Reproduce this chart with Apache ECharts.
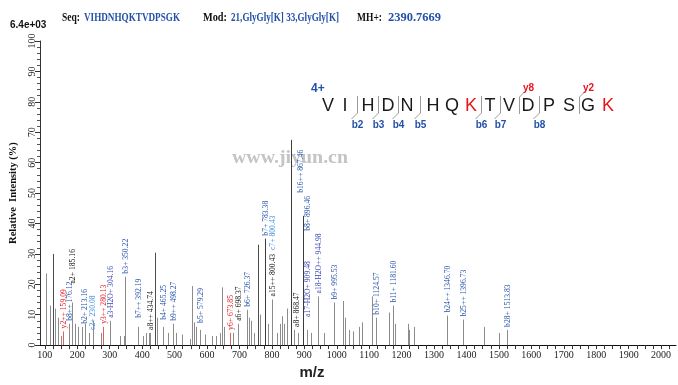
<!DOCTYPE html>
<html><head><meta charset="utf-8">
<script src="https://cdn.jsdelivr.net/npm/echarts@6/dist/echarts.min.js"></script>
<style>html,body{margin:0;padding:0;background:#fff}#c{width:678px;height:385px}</style>
</head><body><div id="c"></div>
<script>
// ---------- DATA ----------
const sequence = 'VIHDNHQKTVDPSGK';
const modText = '21,GlyGly[K] 33,GlyGly[K]';
const mhText = '2390.7669';
const baseIntensity = '6.4e+03';
const modifiedResidues = [8, 15];           // 1-based positions (red K)
const bCleavages = [2, 3, 4, 5, 8, 9, 11];  // cleavage after residue n
const bNames = ['b2', 'b3', 'b4', 'b5', 'b6', 'b7', 'b8'];
const yCleavages = [10, 13];                // cleavage after residue n
const yNames = ['y8', 'y2'];
const xTickValues = [100,200,300,400,500,600,700,800,900,1000,1100,1200,1300,1400,1500,1600,1700,1800,1900,2000];

// unlabelled peaks (m/z, relative intensity %)
const peakMz = [103,115,125,131,140,149,193,202,223,248,273,331,345,402,412,421,439,445,479,504,523,547,555,560,565,593,615,627,640,646,652,680,729,735,745,757,763,788,816,825,831,837,846,880,922,960,1019,1025,1038,1050,1069,1078,1109,1161,1180,1220,1223,1238,1454,1500];
const peakInt = [23.6,13,30,12,9,3,7,6,7,8,4,3,3,3,4,4,30.4,9,4,4,3.5,2,19.4,7.5,6,3.5,3,3,4,19,6,4,9,8,4,33,10,7,4,7,9.5,7,12,4,4,4,14.5,9,5,4.5,6,7.5,16,10.7,7,7,5,6,6,4];

// annotated fragment-ion peaks
const ionMz = [155,173,185,213,236,278,300,347,387,424,464,495,578,671,695,723,779,800,860,868,896,908,942,991,1121,1173,1340,1389,1525];
const ionInt = [4.5,7,14,6,4,6,8,22.5,6,4,6,7,5,4,7,11.6,35,15,67.5,5,42.5,5,16,14,9,13,9.7,8.4,5];
const ionLabel = ['y2++ 159.09','b8++ 176.12','a2+ 185.16','b2+ 213.16','c2+ 230.08','y3++ 280.13','a3-H2O+ 304.16','b3+ 350.22','b7++ 392.19','a8++ 434.74','b4+ 465.25','b9++ 498.27','b5+ 579.29','y6+ 673.85','a6+ 698.37','b6+ 726.37','b7+ 783.38','a15++ 800.43|c7+ 800.43','b16++ 867.46','a8+ 868.47','b8+ 896.46','a17-H2O+ 909.48','a18-H2O++ 944.98','b9+ 995.53','b10+ 1124.57','b11+ 1181.60','b24++ 1346.70','b25++ 1396.73','b28+ 1513.83'];

// ---------- STYLE ----------
const BLUE = '#2350a8', RED = '#e8141b', LBLUE = '#3a8ee0', WBLUE = '#3b45b4';
function ionColor(lbl){
  if (lbl.indexOf('H2O') >= 0) return WBLUE;
  const c = lbl[0];
  if (c === 'y') return RED;
  if (c === 'a') return '#111';
  if (c === 'c') return LBLUE;
  return BLUE;
}
const labelShift = {
  'a2+ 185.16': [0, -16], 'b7++ 392.19': [0, -6], 'b4+ 465.25': [0, -4], 'b5+ 579.29': [0, -4],
  'b2+ 213.16': [2, 0], 'c2+ 230.08': [3, 0], 'b16++ 867.46': [9, 56], 'b8+ 896.46': [4, 18],
  'a17-H2O+ 909.48': [0, -10], 'a8+ 868.47': [2, 0]
};

const ctx = document.createElement('canvas').getContext('2d');
function fit(text, font, w){ ctx.font = font; return w / ctx.measureText(text).width; }

const SERIFB = 'bold 11.5px "Liberation Serif"';
const headerItems = [
  ['Seq:', 62, 18, '#111'], [sequence, 84, 96, BLUE],
  ['Mod:', 203, 24, '#111'], [modText, 231, 108, BLUE],
  ['MH+:', 357, 25, '#111'], [mhText, 388, 53, BLUE]
];
const graphics = [];
graphics.push({type:'text', x:10, y:25, z:10, style:{text: baseIntensity, font:'bold 10px "Liberation Sans"', fill:'#111', verticalAlign:'middle'}});
headerItems.forEach(h => graphics.push({type:'text', x:h[1], y:18, z:10, scaleX: fit(h[0], SERIFB, h[2]),
  style:{text:h[0], font:SERIFB, fill:h[3], verticalAlign:'middle'}}));
// watermark
graphics.push({type:'text', x:290, y:158, z:0, scaleX: fit('www.jiyun.cn','bold 18px "Liberation Serif"',116),
  style:{text:'www.jiyun.cn', font:'bold 18px "Liberation Serif"', fill:'#c4c4c4', align:'center', verticalAlign:'middle'}});
// peptide
const letterX = [328,345,368,388,407,433,452,471,490,509,528,549,569,588,608];
graphics.push({type:'text', x:311, y:89, z:10, style:{text:'4+', font:'bold 12px "Liberation Sans"', fill:BLUE, verticalAlign:'middle'}});
sequence.split('').forEach((ch, i) => graphics.push({type:'text', x:letterX[i], y:106, z:10,
  style:{text:ch, font:'18px "Liberation Sans"', fill: modifiedResidues.indexOf(i+1) >= 0 ? RED : '#1a1a1a', align:'center', verticalAlign:'middle'}}));
function gapX(n){ return Math.round((letterX[n-1] + letterX[n]) / 2) + 0.5; }
bCleavages.forEach((n, k) => {
  const x = gapX(n);
  graphics.push({type:'polyline', z:10, shape:{points:[[x,96],[x,113],[x-6,119]]}, style:{stroke:'#9a9a9a', lineWidth:1, fill:null}});
  graphics.push({type:'text', x:x, y:125, z:10, style:{text:bNames[k], font:'bold 10px "Liberation Sans"', fill:BLUE, align:'center', verticalAlign:'middle'}});
});
yCleavages.forEach((n, k) => {
  const x = gapX(n);
  graphics.push({type:'polyline', z:10, shape:{points:[[x,114],[x,97],[x+6,91]]}, style:{stroke:'#9a9a9a', lineWidth:1, fill:null}});
  graphics.push({type:'text', x:x+9, y:88, z:10, style:{text:yNames[k], font:'bold 10px "Liberation Sans"', fill:RED, align:'center', verticalAlign:'middle'}});
});

// ---------- SERIES DATA ----------
const allPeaks = [];
const peakColor = [];
peakMz.forEach((m, i) => { allPeaks.push([m, peakInt[i]]); peakColor.push(peakInt[i] >= 30 ? '#4d4d4d' : '#8c8c8c'); });
ionMz.forEach((m, i) => {
  allPeaks.push([m, ionInt[i]]);
  const c = ionLabel[i][0] === 'y' ? '#e06060' : (ionInt[i] >= 30 ? '#3c3c3c' : '#8c8c8c');
  peakColor.push(c);
});
const ionData = ionMz.map((m, i) => [m, ionInt[i]]);

const LABEL_FONT = '9px "Liberation Serif"';
const chart = echarts.init(document.getElementById('c'));
chart.setOption({
  animation: false,
  grid: {left: 40, right: 2, top: 41, bottom: 39, containLabel: false},
  xAxis: {
    type: 'value', min: 85, max: 2046,
    name: 'm/z', nameLocation: 'middle', nameGap: 15,
    nameTextStyle: {fontFamily: 'Liberation Sans', fontWeight: 'bold', fontSize: 15, color: '#222', padding: [0, 92, 0, 0]},
    axisLine: {show: true, onZero: false, lineStyle: {color: '#111', width: 1}},
    axisTick: {show: true, customValues: Array.from({length: 79}, (_, k) => 100 + 25 * k).filter(v => v <= 2040), length: 4, lineStyle: {color: '#333'}},
    axisLabel: {customValues: xTickValues, formatter: v => String(v), fontFamily: 'Liberation Serif', fontSize: 10, color: '#222', margin: 5},
    splitLine: {show: false}
  },
  yAxis: {
    type: 'value', min: 0, max: 100, interval: 10,
    name: 'Relative  Intensity (%)', nameLocation: 'middle', nameGap: 18,
    nameTextStyle: {fontFamily: 'Liberation Serif', fontWeight: 'bold', fontSize: 10.5, color: '#111'},
    axisLine: {show: true, lineStyle: {color: '#333', width: 1}},
    axisTick: {show: true, length: 5, lineStyle: {color: '#333'}},
    minorTick: {show: true, splitNumber: 5, length: 3, lineStyle: {color: '#555'}},
    axisLabel: {rotate: 90, formatter: v => String(v), fontFamily: 'Liberation Serif', fontSize: 10, color: '#222', margin: 3},
    splitLine: {show: false}
  },
  graphic: graphics,
  series: [
    {
      type: 'custom', name: 'peaks', data: allPeaks, z: 3,
      renderItem: (params, api) => {
        const p0 = api.coord([api.value(0), 0]);
        const p1 = api.coord([api.value(0), api.value(1)]);
        const x = Math.round(p0[0]) + 0.5;
        return {type: 'line', shape: {x1: x, y1: p0[1], x2: x, y2: p1[1]}, style: {stroke: peakColor[params.dataIndex], lineWidth: 1}};
      }
    },
    {
      type: 'custom', name: 'ions', data: ionData, z: 4,
      renderItem: (params, api) => {
        const i = params.dataIndex;
        const p = api.coord([api.value(0), api.value(1)]);
        const lbl = ionLabel[i];
        const sh = labelShift[lbl] || [0, 0];
        let style;
        if (lbl.indexOf('|') >= 0) {
          const parts = lbl.split('|');
          style = {text: '{a|' + parts[0] + '}  {c|' + parts[1] + '}', font: LABEL_FONT,
            rich: {a: {fill: ionColor(parts[0]), font: LABEL_FONT}, c: {fill: ionColor(parts[1]), font: LABEL_FONT}},
            align: 'left', verticalAlign: 'middle'};
        } else {
          style = {text: lbl, font: LABEL_FONT, fill: ionColor(lbl), align: 'left', verticalAlign: 'middle'};
        }
        return {type: 'text', x: Math.round(p[0]) + 0.5 + sh[0], y: p[1] - 3 + sh[1], rotation: Math.PI / 2, scaleX: 0.85, style: style};
      }
    }
  ]
});
</script>
</body></html>
